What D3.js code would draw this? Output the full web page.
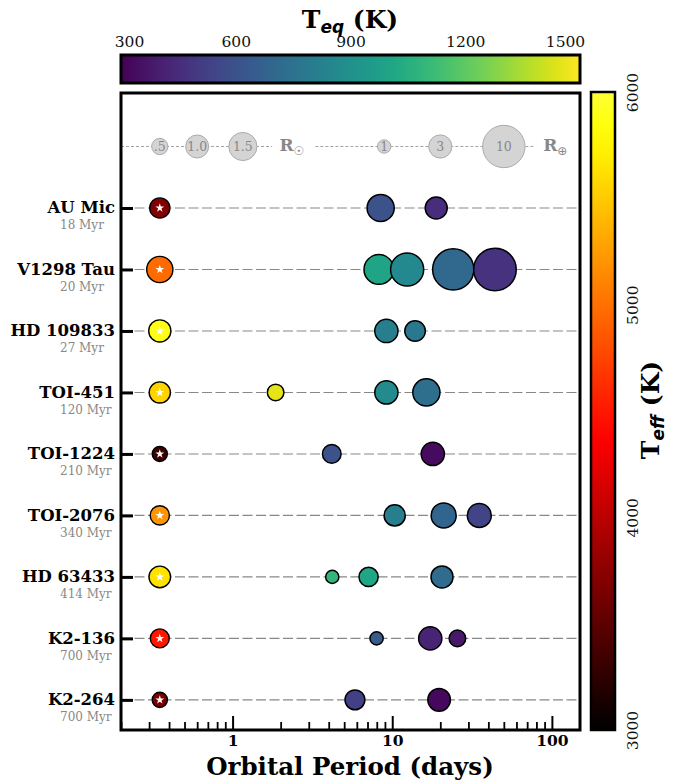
<!DOCTYPE html>
<html>
<head>
<meta charset="utf-8">
<script src="https://cdn.jsdelivr.net/npm/d3@7"></script>
<style>
  body { margin: 0; background: #fff; }
  text { font-family: "DejaVu Serif", serif; }
</style>
</head>
<body>
<div id="chart"></div>
<script>
// Young planetary systems - orbital period vs system

const systems = ["AU Mic", "V1298 Tau", "HD 109833", "TOI-451", "TOI-1224",
  "TOI-2076", "HD 63433", "K2-136", "K2-264"];
const ages = ["18 Myr", "20 Myr", "27 Myr", "120 Myr", "210 Myr",
  "340 Myr", "414 Myr", "700 Myr", "700 Myr"];

// host stars (Teff in K, radius in R_sun)
const starTeff = [3700, 4970, 5880, 5550, 3330, 5200, 5640, 4500, 3660];
const starRadius = [0.77, 1.3, 0.93, 0.85, 0.43, 0.7, 0.88, 0.68, 0.44];
const starPeriod = 0.35; // column where the stars are drawn

// planets (period in days, radius in R_earth, Teq in K)
const planetPeriod = [
  [8.46, 18.86],
  [8.25, 12.4, 24.1, 44],
  [9.19, 13.9],
  [1.86, 9.19, 16.36],
  [4.18, 17.95],
  [10.36, 21.0, 35.1],
  [4.21, 7.11, 20.5],
  [7.98, 17.3, 25.6],
  [5.84, 19.66]
];
const planetRadius = [
  [4.1, 2.7],
  [4.95, 6.1, 9.45, 10.1],
  [3.0, 2.35],
  [1.53, 3.0, 4.1],
  [1.93, 3.0],
  [2.5, 3.5, 3.2],
  [0.97, 2.05, 2.7],
  [0.97, 3.0, 1.53],
  [2.2, 2.85]
];
const planetTeq = [
  [600, 450],
  [1000, 865, 700, 470],
  [810, 780],
  [1450, 870, 735],
  [600, 335],
  [815, 685, 540],
  [1090, 1010, 720],
  [640, 420, 375],
  [530, 325]
];

// size legend
const sunLegendR = [0.5, 1.0, 1.5];
const sunLegendLabel = [".5", "1.0", "1.5"];
const sunLegendP = [0.35, 0.6, 1.16];
const earthLegendR = [1, 3, 10];
const earthLegendLabel = ["1", "3", "10"];
const earthLegendP = [8.9, 20, 50];
const legendLineP = [[0.2, 1.77], [3.3, 78]];
const unitLabelP = [2.35, 105];

// ticks
const periodTicks = [1, 10, 100];
const teqTicks = [300, 600, 900, 1200, 1500];
const teffTicks = [3000, 4000, 5000, 6000];

const W = 678, H = 783;
const svg = d3.select("#chart").append("svg")
  .attr("width", W)
  .attr("height", H);

// Scales
const x = d3.scaleLog().domain([0.2, 150]).range([121, 580]);
const y = d3.scaleLinear().domain([-1.87, 8.49]).range([93, 730]);
const rStar = d3.scaleSqrt().domain([0, 1]).range([0, 11.5]);
const rPlanet = d3.scaleSqrt().domain([0, 1]).range([0, 6.7]);
const teqScale = d3.scaleLinear().domain([300, 1500]).range([121, 580]);
const teffScale = d3.scaleLinear().domain([3000, 6000]).range([730, 92]);

// matplotlib "hot", only the lower 80% of it
function hot(s) {
  const c = v => Math.max(0, Math.min(1, v));
  const r = c(s / 0.365079), g = c((s - 0.365079) / 0.380953), b = c((s - 0.746032) / 0.253968);
  return d3.rgb(r * 255, g * 255, b * 255).toString();
}
const teffColor = t => hot(0.8 * (t - 3000) / 3000);
const teqColor = t => d3.interpolateViridis((t - 300) / 1200);

const defs = svg.append("defs");
const gTeq = defs.append("linearGradient").attr("id", "gteq");
d3.range(0, 1.001, 0.05).forEach(s => {
  gTeq.append("stop").attr("offset", s).attr("stop-color", d3.interpolateViridis(s));
});
const gTeff = defs.append("linearGradient").attr("id", "gteff")
  .attr("x1", 0).attr("y1", 1).attr("x2", 0).attr("y2", 0);
d3.range(0, 1.001, 0.05).forEach(s => {
  gTeff.append("stop").attr("offset", s).attr("stop-color", hot(0.8 * s));
});

// ---- top colorbar (Teq)
svg.append("rect")
  .attr("x", 121).attr("y", 55)
  .attr("width", 459).attr("height", 28)
  .attr("fill", "url(#gteq)")
  .attr("stroke", "#000").attr("stroke-width", 3);

const teqAxis = svg.append("g")
  .attr("transform", "translate(0,52)")
  .call(d3.axisTop(teqScale).tickValues(teqTicks).tickSize(0).tickPadding(5)
    .tickFormat(d3.format("d")));
teqAxis.select(".domain").remove();
teqAxis.selectAll("text")
  .style("font-family", "'DejaVu Serif', serif").style("font-size", "15.5px")
  .attr("fill", "#111")
  .attr("dx", (d, i) => i === 0 ? 8 : i === teqTicks.length - 1 ? -15 : 0);

const title = svg.append("text")
  .attr("x", 350).attr("y", 28)
  .attr("text-anchor", "middle")
  .attr("font-size", 25).attr("font-weight", "bold");
title.append("tspan").text("T");
title.append("tspan").attr("dy", 5).attr("font-size", 17)
  .style("font-family", "'DejaVu Sans', sans-serif").attr("font-style", "italic").text("eq");
title.append("tspan").attr("dy", -5).text(" (K)");

// ---- right colorbar (Teff)
svg.append("rect")
  .attr("x", 591).attr("y", 92)
  .attr("width", 24).attr("height", 638)
  .attr("fill", "url(#gteff)")
  .attr("stroke", "#000").attr("stroke-width", 2.5);

const teffAxis = svg.append("g")
  .attr("transform", "translate(616,0)")
  .call(d3.axisRight(teffScale).tickValues(teffTicks).tickSize(0).tickFormat(d3.format("d")));
teffAxis.select(".domain").remove();
teffAxis.selectAll("text")
  .style("font-family", "'DejaVu Serif', serif").style("font-size", "15.5px")
  .attr("fill", "#111")
  .attr("x", 0).attr("dy", 0)
  .attr("text-anchor", "middle")
  .attr("transform", "translate(17,0) rotate(-90)")
  .attr("dominant-baseline", "central");

const teffLabel = svg.append("text")
  .attr("transform", "translate(659,410) rotate(-90)")
  .attr("text-anchor", "middle")
  .attr("font-size", 25).attr("font-weight", "bold");
teffLabel.append("tspan").text("T");
teffLabel.append("tspan").attr("dy", 5).attr("font-size", 17)
  .style("font-family", "'DejaVu Sans', sans-serif").attr("font-style", "italic").text("eff");
teffLabel.append("tspan").attr("dy", -5).text(" (K)");

// ---- main panel
const plot = svg.append("g");

// row guide lines
plot.selectAll(".row-line")
  .data(systems)
  .enter().append("line")
  .attr("class", "row-line")
  .attr("x1", x.range()[0]).attr("x2", x.range()[1])
  .attr("y1", (d, i) => y(i)).attr("y2", (d, i) => y(i))
  .attr("stroke", "#888").attr("stroke-width", 1.1)
  .attr("stroke-dasharray", "10,3.5");

// size legend
const legY = y(-1);
plot.selectAll(".leg-line")
  .data(legendLineP)
  .enter().append("line")
  .attr("x1", d => x(d[0])).attr("x2", d => x(d[1]))
  .attr("y1", legY).attr("y2", legY)
  .attr("stroke", "#999").attr("stroke-width", 0.9)
  .attr("stroke-dasharray", "3,2");

function legendCircles(rs, ps, labels, rScale) {
  const g = plot.append("g");
  g.selectAll("circle")
    .data(rs)
    .enter().append("circle")
    .attr("cx", (d, i) => x(ps[i])).attr("cy", legY)
    .attr("r", d => rScale(d))
    .attr("fill", "#d4d4d4").attr("stroke", "#aaa").attr("stroke-width", 1);
  g.selectAll("text")
    .data(labels)
    .enter().append("text")
    .attr("x", (d, i) => x(ps[i])).attr("y", legY + 4.5)
    .attr("text-anchor", "middle")
    .attr("font-size", 12.5).attr("fill", "#888")
    .text(d => d);
}
legendCircles(sunLegendR, sunLegendP, sunLegendLabel, rStar);
legendCircles(earthLegendR, earthLegendP, earthLegendLabel, rPlanet);

[["\u2609", unitLabelP[0]], ["\u2295", unitLabelP[1]]].forEach(u => {
  const t = plot.append("text")
    .attr("x", x(u[1])).attr("y", legY + 5)
    .attr("text-anchor", "middle")
    .attr("font-size", 17).attr("font-weight", "bold").attr("fill", "#888");
  t.append("tspan").text("R");
  t.append("tspan").attr("dy", 4).attr("font-size", 12)
    .style("font-family", "'DejaVu Sans', sans-serif").attr("font-weight", "normal").text(u[0]);
});

// host stars
const stars = plot.selectAll(".star")
  .data(systems)
  .enter().append("g")
  .attr("class", "star")
  .attr("transform", (d, i) => "translate(" + x(starPeriod) + "," + y(i) + ")");
stars.append("circle")
  .attr("r", (d, i) => rStar(starRadius[i]))
  .attr("fill", (d, i) => teffColor(starTeff[i]))
  .attr("stroke", "#000").attr("stroke-width", 1.4);
stars.append("path")
  .attr("d", d3.symbol(d3.symbolStar, 24))
  .attr("fill", "#fff");

// planets
const planets = [];
systems.forEach((s, i) => {
  planetPeriod[i].forEach((p, j) => {
    planets.push({ row: i, p: p, r: planetRadius[i][j], teq: planetTeq[i][j] });
  });
});
plot.selectAll(".planet")
  .data(planets)
  .enter().append("circle")
  .attr("class", "planet")
  .attr("cx", d => x(d.p)).attr("cy", d => y(d.row))
  .attr("r", d => rPlanet(d.r))
  .attr("fill", d => teqColor(d.teq))
  .attr("stroke", "#000").attr("stroke-width", 1.5);

// axes
const minorTicks = [];
[0.1, 1, 10].forEach(dec => {
  d3.range(2, 10).forEach(k => {
    const v = dec * k;
    if (v >= 0.2 && v <= 150) minorTicks.push(v);
  });
});

const xMinor = plot.append("g")
  .attr("transform", "translate(0,730)")
  .call(d3.axisBottom(x).tickValues(minorTicks).tickSize(-8).tickFormat(""));
xMinor.select(".domain").remove();
xMinor.selectAll("line").attr("stroke-width", 1.8);

const xAxis = plot.append("g")
  .attr("transform", "translate(0,730)")
  .call(d3.axisBottom(x).tickValues(periodTicks).tickSize(-14).tickPadding(5)
    .tickFormat(d3.format("d")));
xAxis.select(".domain").remove();
xAxis.selectAll("line").attr("stroke-width", 2);
xAxis.selectAll("text")
  .style("font-family", "'DejaVu Serif', serif").style("font-size", "15.5px")
  .attr("font-weight", "bold").attr("fill", "#000");

const yAxis = plot.append("g")
  .attr("transform", "translate(121,0)")
  .call(d3.axisLeft(y).tickValues(d3.range(systems.length)).tickSize(-12).tickFormat(""));
yAxis.select(".domain").remove();
yAxis.selectAll("line").attr("stroke-width", 3);

// system names and ages
plot.selectAll(".name")
  .data(systems)
  .enter().append("text")
  .attr("x", 115).attr("y", (d, i) => y(i) + 5.5)
  .attr("text-anchor", "end")
  .attr("font-size", 16.5).attr("font-weight", "bold")
  .text(d => d);
plot.selectAll(".age")
  .data(ages)
  .enter().append("text")
  .attr("x", 60).attr("y", (d, i) => y(i) + 21.5)
  .attr("font-size", 12).attr("fill", "#888")
  .text(d => d);

// frame
plot.append("rect")
  .attr("x", 121).attr("y", 93)
  .attr("width", 459).attr("height", 637)
  .attr("fill", "none")
  .attr("stroke", "#000").attr("stroke-width", 3);

svg.append("text")
  .attr("x", 350).attr("y", 775)
  .attr("text-anchor", "middle")
  .attr("font-size", 24.5).attr("font-weight", "bold")
  .text("Orbital Period (days)");
</script>
</body>
</html>
